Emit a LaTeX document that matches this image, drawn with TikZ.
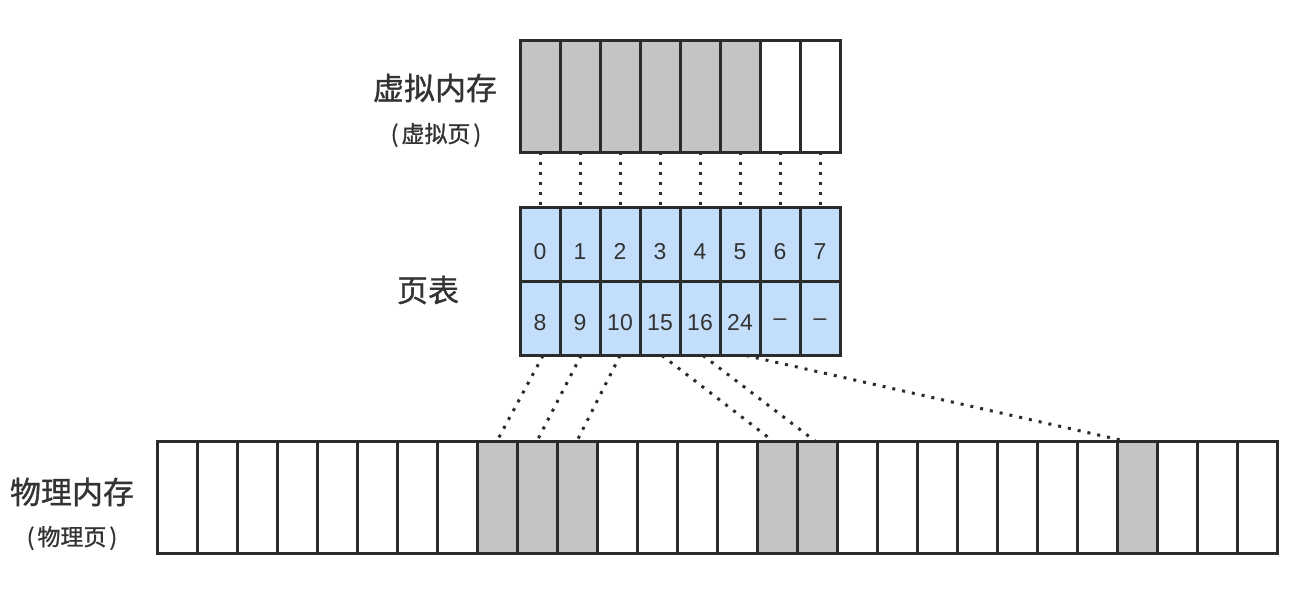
\documentclass[tikz,border=0pt]{standalone}
\usepackage{fontspec}
\setmainfont{Liberation Sans}
\newfontfamily\cjk[FakeBold=1]{Noto Sans CJK SC}
\definecolor{edge}{HTML}{2B2B2B}
\definecolor{cellgray}{HTML}{C4C4C4}
\definecolor{cellblue}{HTML}{C3DEFB}
\definecolor{txt}{HTML}{333333}
\begin{document}
\begin{tikzpicture}[x=1pt,y=-1pt,
  cell/.style={draw=edge, line width=3pt, inner sep=0pt, outer sep=0pt, minimum width=40pt, fill=white},
  tallcell/.style={cell, minimum height=112pt},
  rowcell/.style={cell, fill=cellblue, minimum height=74pt},
  numtext/.style={text=txt, inner sep=0pt, font=\fontsize{23}{26}\selectfont},
  used/.style={fill=cellgray},
  dotline/.style={draw=edge, line width=3pt, dash pattern=on 3pt off 7pt},
  biglabel/.style={text=txt, font=\cjk\fontsize{31}{36}\selectfont, inner sep=0pt},
  smalllabel/.style={text=txt, font=\cjk\fontsize{23}{26}\selectfont, inner sep=0pt}]
\useasboundingbox (0,0) rectangle (1304,592);
% virtual memory
\foreach \i in {0,...,7}{
  \pgfmathtruncatemacro{\isused}{\i<6 ? 1 : 0}
  \ifnum\isused=1
    \node[tallcell, used] (v\i) at (540+40*\i, 96) {};
  \else
    \node[tallcell] (v\i) at (540+40*\i, 96) {};
  \fi
}
% page table
\foreach \i/\a/\b in {0/0/8,1/1/9,2/2/10,3/3/15,4/4/16,5/5/24,6/6/--,7/7/--}{
  \node[rowcell] (p\i) at (540+40*\i, 244.5) {};
  \node[rowcell] (q\i) at (540+40*\i, 318.5) {};
  \node[numtext] (pt\i) at ([yshift=-7pt]p\i.center) {\a};
  \node[numtext] (qt\i) at ([yshift=-4pt]q\i.center) {\b};
}
% physical memory
\foreach \i in {0,...,27}{
  \node[tallcell] (m\i) at (177+40*\i, 497) {};
}
\foreach \i in {8,9,10,15,16,24}{
  \node[tallcell, used] at (m\i) {};
}
% labels
\node[biglabel] (lv) at (435,88) {虚拟内存};
\node[smalllabel] (lvp) at (436,135) {(\kern3pt虚拟页\kern3pt)};
\node[biglabel] (lpt) at (428,290) {页表};
\node[biglabel] (lpm) at (72,492) {物理内存};
\node[smalllabel] (lpp) at (72,538) {(\kern3pt物理页\kern3pt)};
% connectors virtual -> page table
\foreach \i in {0,...,7}{
  \draw[dotline] (v\i.south) -- (p\i.north);
}
% page table -> physical
\draw[dotline] ([xshift=3pt]q0.south) -- (m8.north);
\draw[dotline] ([xshift=1pt]q1.south) -- (m9.north);
\draw[dotline] (q2.south) -- (m10.north);
\draw[dotline] ([xshift=2pt]q3.south) -- ([xshift=-4pt]m15.north);
\draw[dotline] ([xshift=3pt]q4.south) -- ([xshift=-2pt]m16.north);
\draw[dotline] ([xshift=6pt]q5.south) -- ([xshift=-12pt]m24.north);
\end{tikzpicture}
\end{document}
